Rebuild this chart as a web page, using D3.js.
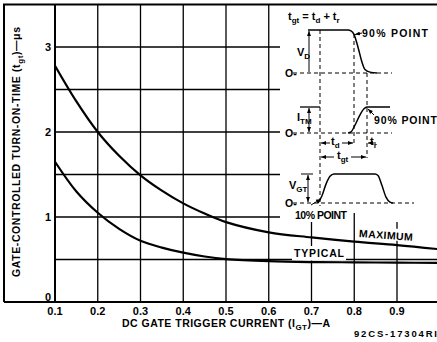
<!DOCTYPE html>
<meta charset="utf-8">
<script src="https://d3js.org/d3.v7.min.js"></script>
<body style="margin:0;background:#fff">
<div id="chart"></div>
<script>
// tick values and grid
var xTickValues = [0.1, 0.2, 0.3, 0.4, 0.5, 0.6, 0.7, 0.8, 0.9];
var yTickValues = [0, 1, 2, 3];
var xGridValues = [0.2, 0.3, 0.4, 0.5, 0.6, 0.7, 0.8, 0.9];
var yGridValues = [0.5, 1, 1.5, 2, 2.5, 3];

// curves
var currentA  = [0.1, 0.15, 0.2, 0.25, 0.3, 0.35, 0.4, 0.45, 0.5, 0.6, 0.7, 0.8, 0.9, 1.0];
var maximumUs = [2.78, 2.36, 2.0, 1.72, 1.49, 1.31, 1.16, 1.04, 0.94, 0.82, 0.76, 0.71, 0.67, 0.62];
var typicalUs = [1.65, 1.30, 1.05, 0.86, 0.72, 0.64, 0.58, 0.535, 0.505, 0.48, 0.47, 0.467, 0.463, 0.46];

// inset waveforms: [time, level 0..1]
var vdWave  = [[-12,1],[28,1],[31,0.98],[34,0.9],[38,0.6],[42,0.25],[45,0.08],[50,0.02],[57,0]];
var itmWave = [[28,0],[31,0.04],[35,0.3],[40,0.7],[44,0.93],[47,1],[70,1]];
var vgtWave = [[-2,0],[2,0.25],[6,0.65],[10,0.92],[14,1],[55,1],[58,0.95],[62,0.6],[66,0.2],[70,0.03],[73,0]];

var W = 437, H = 342;
var svg = d3.select("#chart").append("svg")
    .attr("width", W).attr("height", H)
    .style("font-family", "Liberation Sans, Arial, sans-serif")
    .style("font-weight", "bold");

var x = d3.scaleLinear().domain([0.1, 1.0]).range([55, 439.75]);
var y = d3.scaleLinear().domain([0, 3.5]).range([302, 4.5]);

// markers for arrows
var defs = svg.append("defs");
defs.append("marker").attr("id", "arr")
    .attr("viewBox", "0 0 10 10").attr("refX", 10).attr("refY", 5)
    .attr("markerWidth", 5).attr("markerHeight", 5).attr("orient", "auto-start-reverse")
  .append("path").attr("d", "M0,1 L10,5 L0,9 Z").attr("fill", "#000");

// grid
svg.append("g").selectAll("line").data(xGridValues).enter().append("line")
    .attr("x1", d => x(d)).attr("x2", d => x(d))
    .attr("y1", d => d <= 0.6 ? y(3.5) : (d == 0.8 ? 213 : 222))
    .attr("y2", y(0))
    .attr("stroke", "#000").attr("stroke-width", 1.3);
svg.append("g").selectAll("line").data(yGridValues).enter().append("line")
    .attr("x1", x(0.1)).attr("x2", d => d == 0.5 ? W : 280)
    .attr("y1", d => y(d)).attr("y2", d => y(d))
    .attr("stroke", "#000").attr("stroke-width", 1.3);

// frame
svg.append("path")
    .attr("d", "M4," + y(0) + "V" + y(3.5) + "H" + W + "M4," + y(0) + "H" + W)
    .attr("fill", "none").attr("stroke", "#000").attr("stroke-width", 2);
svg.append("line").attr("x1", x(0.1)).attr("x2", x(0.1)).attr("y1", y(3.5)).attr("y2", y(0))
    .attr("stroke", "#000").attr("stroke-width", 2);

// label backgrounds to break grid
svg.append("rect").attr("x", 292).attr("y", 246).attr("width", 54).attr("height", 14.5).attr("fill", "#fff");
svg.append("rect").attr("x", 358).attr("y", 228).attr("width", 56).attr("height", 12).attr("fill", "#fff")
    .attr("transform", "rotate(4,386,234)");

// curves
var line = d3.line().x(d => x(d[0])).y(d => y(d[1])).curve(d3.curveCatmullRom.alpha(0.5));
[maximumUs, typicalUs].forEach(function(s) {
  svg.append("path").datum(currentA.map((c, i) => [c, s[i]]))
    .attr("d", line).attr("fill", "none").attr("stroke", "#000").attr("stroke-width", 2.2);
});

// curve labels
svg.append("text").attr("x", 386).attr("y", 239).attr("text-anchor", "middle")
    .attr("font-size", 10.5).attr("textLength", 54).attr("transform", "rotate(4,386,234)").text("MAXIMUM");
svg.append("text").attr("x", 319).attr("y", 257).attr("text-anchor", "middle")
    .attr("font-size", 10.5).attr("textLength", 50).text("TYPICAL");

// tick labels
svg.append("g").selectAll("text").data(xTickValues).enter().append("text")
    .attr("x", d => x(d)).attr("y", 315).attr("text-anchor", "middle")
    .attr("font-size", 11).text(d => d.toFixed(1));
svg.append("g").selectAll("text").data(yTickValues).enter().append("text")
    .attr("x", 51).attr("y", d => d == 0 ? y(d) - 1 : y(d) + 4).attr("text-anchor", "end")
    .attr("font-size", 11).text(d => d);

// axis titles
var xt = svg.append("text").attr("x", 226).attr("y", 327).attr("text-anchor", "middle")
    .attr("font-size", 10.5).attr("textLength", 208);
xt.append("tspan").text("DC GATE TRIGGER CURRENT (I");
xt.append("tspan").attr("font-size", 8).attr("dy", 3).text("GT");
xt.append("tspan").attr("dy", -3).text(")\u2014A");

var yt = svg.append("text").attr("transform", "translate(20,152) rotate(-90)")
    .attr("text-anchor", "middle").attr("font-size", 10.5).attr("textLength", 250);
yt.append("tspan").text("GATE-CONTROLLED TURN-ON-TIME (t");
yt.append("tspan").attr("font-size", 8).attr("dy", 3).text("gt");
yt.append("tspan").attr("dy", -3).text(")\u2014\u03bcs");

svg.append("text").attr("x", 437).attr("y", 337).attr("text-anchor", "end")
    .attr("font-size", 9.5).attr("textLength", 83).text("92CS-17304RI");

// ---- inset waveform diagram ----
var tx = d3.scaleLinear().domain([0, 100]).range([320, 420]);
var inset = svg.append("g");
function wave(data, base, top) {
  var ly = d3.scaleLinear().domain([0, 1]).range([base, top]);
  inset.append("path").datum(data)
    .attr("d", d3.line().x(d => tx(d[0])).y(d => ly(d[1])).curve(d3.curveMonotoneX))
    .attr("fill", "none").attr("stroke", "#000").attr("stroke-width", 1.5);
}
wave(vdWave, 73, 30);
wave(itmWave, 133, 107);
wave(vgtWave, 203, 174);

function seg(x1, y1, x2, y2, dash, w, mk) {
  var l = inset.append("line").attr("x1", x1).attr("y1", y1).attr("x2", x2).attr("y2", y2)
    .attr("stroke", "#000").attr("stroke-width", w || 1);
  if (dash) l.attr("stroke-dasharray", "4,3");
  if (mk == "end" || mk == "both") l.attr("marker-end", "url(#arr)");
  if (mk == "start" || mk == "both") l.attr("marker-start", "url(#arr)");
}
// baselines
seg(293, 73, 392, 73, true);
seg(293, 133, 392, 133, true);
seg(293, 203, 414, 203, true);
// verticals
seg(tx(0), 30, tx(0), 206, true);
seg(tx(34), 34, tx(34), 146, true);
seg(tx(47), 73, tx(47), 158, true);
// top reference lines
seg(300, 107, tx(0), 107, false, 1.3);
seg(301, 174, 313, 174, false, 1);
// amplitude arrows
seg(309, 72, 309, 31, false, 1, "end");
seg(309, 132, 309, 108, false, 1, "both");
seg(308, 202, 308, 175, false, 1, "both");
// time dimension arrows
seg(330, 143, tx(0) + 1, 143, false, 1, "end");
seg(342, 143, tx(34) - 1, 143, false, 1, "end");
seg(376, 143, tx(47) + 1, 143, false, 1, "end");
seg(334, 157, tx(0) + 1, 157, false, 1, "end");
seg(351, 157, tx(47) - 1, 157, false, 1, "end");
// point arrows
seg(362, 33, tx(34) + 1, 34.5, false, 1, "end");
seg(374, 115, tx(47) + 1, 109, false, 1, "end");
seg(311, 205, tx(1), 199, false, 1, "end");

function label(xp, yp, main, sub, size, len) {
  var t = inset.append("text").attr("x", xp).attr("y", yp).attr("font-size", size || 10.5);
  if (len) t.attr("textLength", len);
  t.append("tspan").text(main);
  if (sub) t.append("tspan").attr("font-size", 8).attr("dy", 3).text(sub);
  return t;
}
var eq = inset.append("text").attr("x", 288).attr("y", 20).attr("font-size", 11);
eq.append("tspan").text("t");
eq.append("tspan").attr("font-size", 8).attr("dy", 3).text("gt");
eq.append("tspan").attr("dy", -3).text(" = t");
eq.append("tspan").attr("font-size", 8).attr("dy", 3).text("d");
eq.append("tspan").attr("dy", -3).text(" + t");
eq.append("tspan").attr("font-size", 8).attr("dy", 3).text("r");

label(297, 56, "V", "D", 11);
label(297, 121, "I", "TM", 11);
label(289, 189, "V", "GT", 11);
label(285, 77, "O-", null, 10.5);
label(285, 137, "O-", null, 10.5);
label(285, 207, "O-", null, 10.5);
label(331, 145, "t", "d", 11);
label(370, 145, "t", "r", 11);
label(337, 159, "t", "gt", 11);
label(362, 37, "90% POINT", null, 10.5, 66);
label(374, 124, "90% POINT", null, 10.5, 63);
label(295, 219, "10% POINT", null, 10.5, 52);
</script>
</body>
